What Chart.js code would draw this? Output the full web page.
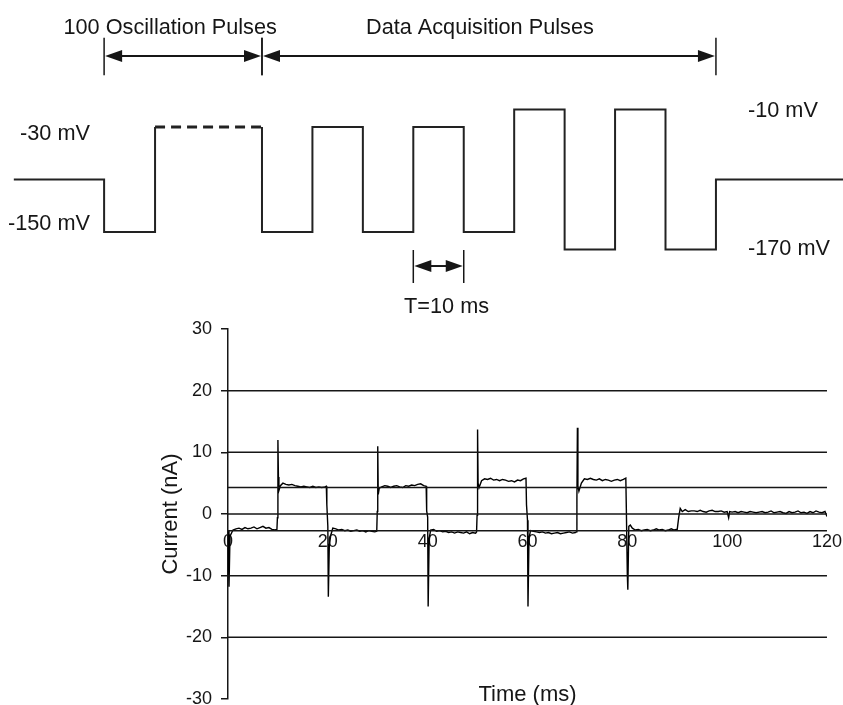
<!DOCTYPE html>
<html>
<head>
<meta charset="utf-8">
<script src="https://cdn.jsdelivr.net/npm/chart.js@4.4.0/dist/chart.umd.min.js"></script>
<style>
html, body { margin: 0; padding: 0; background: #fff; overflow: hidden; }
#protocol { position: absolute; left: 0; top: 0; }
#current { position: absolute; left: 0; top: 300px; }
</style>
</head>
<body>
<canvas id="protocol" width="843" height="330"></canvas>
<canvas id="current" width="843" height="420"></canvas>
<script>
// voltage protocol: step start times (ms) and command levels (mV)
var stepTimes = [-49.2, -31.3, -21.2, 0, 0, 10, 20, 30, 40, 50, 60, 70, 80, 90, 115.2];
var stepLevels = [-90, -150, -30, -30, -150, -30, -150, -30, -150, -10, -170, -10, -170, -90, -90];
var dashedStep = 2; // the collapsed 100 oscillation pulses

// protocol annotations (ms / mV)
var spanLabels = ['100 Oscillation Pulses', 'Data Acquisition Pulses'];
var spanFrom = [-31.3, 0];
var spanTo = [0, 90];
var spanLabelAt = [-18.2, 43.2];
var periodLabel = 'T=10 ms';
var periodFrom = 30, periodTo = 40, periodLabelAt = 36.6;
var leftLevelLabels = ['-30 mV', '-150 mV'];
var leftLevelBase = [-44.9, -147.7];
var rightLevelLabels = ['-10 mV', '-170 mV'];
var rightLevelBase = [-18.6, -176.3];

// recorded current: [time ms, current nA]
var traceSamples = [
    [0, -2.7], [0.2, -11.8], [0.4, -3.6], [1, -2.6], [1.6, -2.4], [2.2, -2.3], [2.8, -2.5], [3.4, -2.2],
    [4, -2.4], [4.6, -2.3], [5.2, -2.1], [5.8, -2.4], [6.4, -2.2], [7, -2.0], [7.6, -2.3], [8.2, -2.2],
    [8.8, -2.5], [9.4, -2.6], [9.8, -2.5], [9.9, -0.6],
    [10, 12.0], [10.1, 6.0], [10.2, 3.8], [10.5, 4.6], [11, 5.0], [11.6, 4.8], [12.2, 4.7], [12.8, 4.8],
    [13.4, 4.6], [14, 4.5], [14.6, 4.4], [15.2, 4.5], [15.8, 4.4], [16.4, 4.3], [17, 4.5], [17.6, 4.3],
    [18.2, 4.4], [18.8, 4.3], [19.4, 4.4], [19.7, 4.5], [19.8, 1.5],
    [20, -2.0], [20.1, -13.4], [20.3, -5.0], [20.6, -3.4], [21, -2.3], [21.6, -2.4], [22.2, -2.6], [22.8, -2.5],
    [23.4, -2.7], [24, -2.6], [24.6, -2.8], [25.2, -2.7], [25.8, -2.6], [26.4, -2.8], [27, -2.7], [27.6, -2.9],
    [28.2, -2.7], [28.8, -2.8], [29.4, -2.9], [29.8, -2.8], [29.9, 0.4],
    [30, 11.0], [30.1, 3.2], [30.3, 4.2], [30.8, 4.4], [31.4, 4.6], [32, 4.5], [32.6, 4.3], [33.2, 4.5],
    [33.8, 4.6], [34.4, 4.4], [35, 4.3], [35.6, 4.6], [36.2, 4.5], [36.8, 4.7], [37.4, 4.6], [38, 4.8],
    [38.6, 4.9], [39.2, 4.6], [39.7, 4.5], [39.8, 0.5],
    [40, -0.5], [40.1, -15.0], [40.3, -4.0], [40.6, -2.6], [41.2, -2.5], [41.8, -2.8], [42.4, -2.7], [43, -2.9],
    [43.6, -2.8], [44.2, -3.0], [44.8, -2.9], [45.4, -3.1], [46, -2.9], [46.6, -3.0], [47.2, -3.1], [47.8, -2.9],
    [48.4, -3.2], [49, -3.0], [49.6, -3.1], [49.8, -2.9], [49.9, -0.2],
    [50, 13.7], [50.1, 5.0], [50.3, 4.3], [50.8, 5.4], [51.4, 5.7], [52, 5.6], [52.6, 5.8], [53.2, 5.5],
    [53.8, 5.6], [54.4, 5.4], [55, 5.6], [55.6, 5.5], [56.2, 5.3], [56.8, 5.4], [57.4, 5.2], [58, 5.5],
    [58.6, 5.4], [59.2, 5.7], [59.7, 5.8], [59.8, 1.5],
    [60, -1.0], [60.1, -15.0], [60.3, -4.0], [60.6, -2.7], [61.2, -2.8], [61.8, -2.9], [62.4, -3.0], [63, -2.9],
    [63.6, -3.1], [64.2, -3.0], [64.8, -3.2], [65.4, -3.1], [66, -3.0], [66.6, -3.2], [67.2, -3.1], [67.8, -3.0],
    [68.4, -2.9], [69, -3.1], [69.6, -3.0], [69.8, -2.9], [69.9, 2.5],
    [70, 14.0], [70.1, 4.5], [70.3, 3.7], [70.8, 5.0], [71.4, 5.7], [72, 5.6], [72.6, 5.8], [73.2, 5.6],
    [73.8, 5.5], [74.4, 5.7], [75, 5.4], [75.6, 5.6], [76.2, 5.5], [76.8, 5.3], [77.4, 5.5], [78, 5.6],
    [78.6, 5.4], [79.2, 5.6], [79.7, 5.8], [79.8, 1.0],
    [80, -9.8], [80.1, -12.3], [80.3, -2.0], [80.6, -1.8], [81, -2.3], [81.6, -2.6], [82.2, -2.5], [82.8, -2.7],
    [83.4, -2.6], [84, -2.5], [84.6, -2.7], [85.2, -2.6], [85.8, -2.4], [86.4, -2.6], [87, -2.5], [87.6, -2.7],
    [88.2, -2.6], [88.8, -2.4], [89.4, -2.6], [89.8, -2.5],
    [90, -2.5], [90.3, -0.5], [90.6, 0.9], [91, 0.4], [91.6, 0.7], [92.2, 0.4], [92.8, 0.5], [93.4, 0.5],
    [94, 0.4], [94.6, 0.6], [95.2, 0.4], [95.8, 0.3], [96.4, 0.5], [97, 0.6], [97.6, 0.4], [98.2, 0.4],
    [98.8, 0.5], [99.4, 0.3], [100, 0.4], [100.3, -0.6], [100.5, 0.4], [101, 0.3], [101.6, 0.4], [102.2, 0.2],
    [102.8, 0.4], [103.4, 0.3], [104, 0.2], [104.6, 0.4], [105.2, 0.3], [105.8, 0.2], [106.4, 0.3], [107, 0.4],
    [107.6, 0.2], [108.2, 0.3], [108.8, 0.5], [109.4, 0.2], [110, 0.3], [110.6, 0.4], [111.2, 0.2], [111.8, 0.1],
    [112.4, 0.4], [113, 0.2], [113.6, 0.3], [114.2, 0.5], [114.8, 0.2], [115.4, 0.3], [116, 0.1], [116.6, 0.4],
    [117.2, 0.2], [117.8, 0.5], [118.4, 0.3], [119, 0.2], [119.6, 0.4], [120, -0.4]
];

// horizontal reference lines across the plot (nA)
var refLevels = [20, 10, 4.3, 0, -2.7, -10, -20];
var timeAxisLevel = -2.7; // time tick labels hang under this line

var ink = '#161616';
Chart.defaults.font.family = '"Liberation Sans", Arial, sans-serif';
Chart.defaults.color = ink;

var protocolNotes = {
    id: 'protocolNotes',
    afterDatasetsDraw: function (chart) {
        var ctx = chart.ctx;
        var x = chart.scales.x;
        var y = chart.scales.y;
        ctx.save();
        ctx.strokeStyle = ink;
        ctx.fillStyle = ink;

        function vline(t, v1, v2) {
            var px = x.getPixelForValue(t);
            ctx.lineWidth = 1.5;
            ctx.beginPath();
            ctx.moveTo(px, y.getPixelForValue(v1));
            ctx.lineTo(px, y.getPixelForValue(v2));
            ctx.stroke();
        }
        function head(tip, dir, py) {
            ctx.beginPath();
            ctx.moveTo(tip, py);
            ctx.lineTo(tip + dir * 17, py - 6);
            ctx.lineTo(tip + dir * 17, py + 6);
            ctx.closePath();
            ctx.fill();
        }
        function arrow(t1, t2, v) {
            var a = x.getPixelForValue(t1) + 1;
            var b = x.getPixelForValue(t2) - 1;
            var py = y.getPixelForValue(v);
            ctx.lineWidth = 2;
            ctx.beginPath();
            ctx.moveTo(a + 10, py);
            ctx.lineTo(b - 10, py);
            ctx.stroke();
            head(a, 1, py);
            head(b, -1, py);
        }

        // span markers and arrows
        spanFrom.concat(spanTo).forEach(function (t) { vline(t, 72, 29); });
        spanFrom.forEach(function (t, i) { arrow(t, spanTo[i], 51); });
        vline(periodFrom, -170.6, -208.3);
        vline(periodTo, -170.6, -208.3);
        arrow(periodFrom, periodTo, -188.9);

        ctx.font = '21.7px "Liberation Sans", Arial, sans-serif';
        ctx.textBaseline = 'alphabetic';
        ctx.textAlign = 'center';
        spanLabels.forEach(function (s, i) {
            ctx.fillText(s, x.getPixelForValue(spanLabelAt[i]), y.getPixelForValue(76.2));
        });
        ctx.fillText(periodLabel, x.getPixelForValue(periodLabelAt), y.getPixelForValue(-242.6));
        ctx.textAlign = 'right';
        leftLevelLabels.forEach(function (s, i) {
            ctx.fillText(s, x.getPixelForValue(-34.1), y.getPixelForValue(leftLevelBase[i]));
        });
        ctx.textAlign = 'left';
        rightLevelLabels.forEach(function (s, i) {
            ctx.fillText(s, x.getPixelForValue(96.35), y.getPixelForValue(rightLevelBase[i]));
        });
        ctx.restore();
    }
};

new Chart(document.getElementById('protocol'), {
    type: 'line',
    data: {
        datasets: [{
            data: stepTimes.map(function (t, i) { return { x: t, y: stepLevels[i] }; }),
            stepped: true,
            borderColor: '#222',
            borderWidth: 2,
            pointRadius: 0,
            segment: {
                borderDash: function (c) { return c.p0DataIndex === dashedStep ? [10, 6] : undefined; },
                borderWidth: function (c) { return c.p0DataIndex === dashedStep ? 3 : undefined; }
            }
        }]
    },
    options: {
        responsive: false,
        animation: false,
        events: [],
        layout: { padding: 0 },
        plugins: { legend: { display: false }, tooltip: { enabled: false } },
        scales: {
            x: { type: 'linear', display: false, min: -51.94, max: 115.19 },
            y: { display: false, min: -262, max: 115.1 }
        }
    },
    plugins: [protocolNotes]
});

var currentSets = refLevels.map(function (v) {
    return {
        data: [{ x: 0, y: v }, { x: 120, y: v }],
        borderColor: ink,
        borderWidth: 1.5,
        pointRadius: 0
    };
});
currentSets.push({
    data: traceSamples.map(function (p) { return { x: p[0], y: p[1] }; }),
    borderColor: '#000',
    borderWidth: 1.4,
    pointRadius: 0,
    tension: 0
});

new Chart(document.getElementById('current'), {
    type: 'line',
    data: { datasets: currentSets },
    options: {
        responsive: false,
        animation: false,
        events: [],
        layout: { padding: { left: 0, right: 16, top: 29, bottom: 21 } },
        plugins: { legend: { display: false }, tooltip: { enabled: false } },
        scales: {
            x: {
                type: 'linear',
                min: 0,
                max: 120,
                position: { y: timeAxisLevel },
                grid: { display: false, drawTicks: false },
                border: { display: false },
                ticks: { stepSize: 20, padding: 1, font: { size: 18 } },
                title: { display: true, text: 'Time (ms)', font: { size: 22 }, padding: { top: 127.5, bottom: 0 } }
            },
            y: {
                min: -30,
                max: 30,
                grid: { drawOnChartArea: false, tickLength: 7, color: ink, lineWidth: 1.5 },
                border: { color: ink, width: 1.5 },
                ticks: { stepSize: 10, padding: 9, font: { size: 18 } },
                title: { display: true, text: 'Current (nA)', font: { size: 22 }, padding: { top: 157.8, bottom: 0 } },
                afterFit: function (s) { s.width = 228; }
            }
        }
    }
});
</script>
</body>
</html>
